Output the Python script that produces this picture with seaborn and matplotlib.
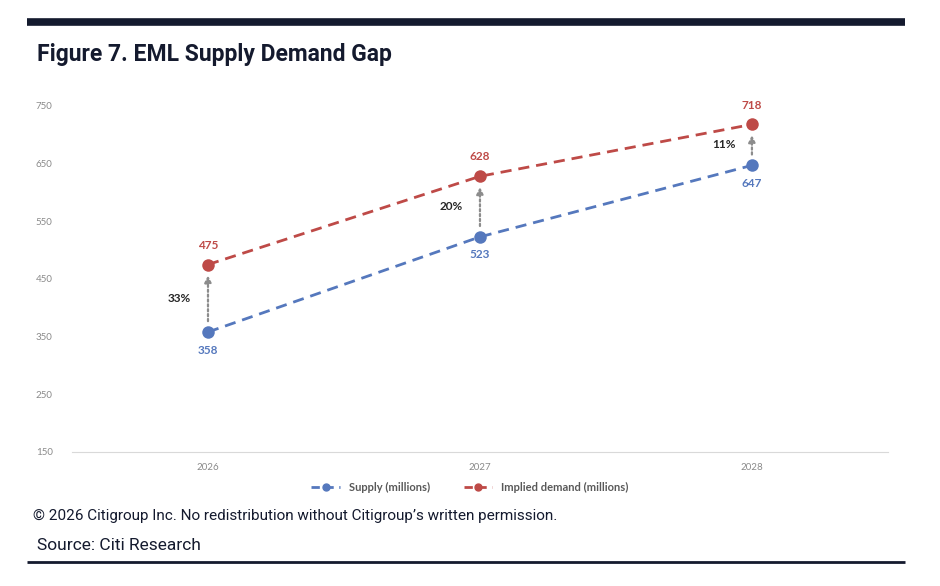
# EML supply / demand gap chart
import pandas as pd
import matplotlib.pyplot as plt
import seaborn as sns

sns.set_theme(style="white")
plt.rcParams['font.family'] = ['Lato', 'DejaVu Sans']

# data
years = ['2026', '2027', '2028']
supply = [358, 523, 647]
demand = [475, 628, 718]
gap_labels = ['33%', '20%', '11%']
y_ticks = [150, 250, 350, 450, 550, 650, 750]

blue = '#5578BD'
red = '#BE4A47'
navy = '#141A2E'

df = pd.DataFrame({'Year': years * 2,
                   'Value': supply + demand,
                   'Series': ['Supply (millions)'] * 3 + ['Implied demand (millions)'] * 3})

fig = plt.figure(figsize=(9.4, 5.86), dpi=100)
ax = fig.add_axes([0.0766, 0.2287, 0.868, 0.5905])

sns.lineplot(data=df, x='Year', y='Value', hue='Series', sort=False,
             palette={'Supply (millions)': blue, 'Implied demand (millions)': red},
             linestyle='--', linewidth=2, marker='o', markersize=9,
             markeredgewidth=0, ax=ax, legend=False)
for l in ax.lines:
    l.set_dashes([4, 2.5])

ax.set_xlim(-0.5, 2.5)
ax.set_ylim(150, 750)
ax.set_yticks(y_ticks)
ax.set_yticklabels([str(t) for t in y_ticks])
ax.tick_params(axis='both', labelsize=7, colors='#8a8a8a', length=0, pad=14)
ax.tick_params(axis='x', pad=8)
ax.set_xlabel('')
ax.set_ylabel('')
for s in ['top', 'right', 'left']:
    ax.spines[s].set_visible(False)
ax.spines['bottom'].set_color('#d9d9d9')
ax.spines['bottom'].set_linewidth(0.8)

# value labels and gap arrows
for i in range(len(years)):
    ax.annotate(str(demand[i]), (i, demand[i]), xytext=(0, 10), textcoords='offset points',
                ha='center', va='bottom', fontsize=8.5, fontweight='bold', color=red)
    ax.annotate(str(supply[i]), (i, supply[i]), xytext=(0, -9), textcoords='offset points',
                ha='center', va='top', fontsize=8.5, fontweight='bold', color=blue)
    ax.annotate('', xy=(i, demand[i] - 14), xytext=(i, supply[i] + 14),
                arrowprops=dict(arrowstyle='-|>', color='#8c8c8c', lw=1.6,
                                linestyle=(0, (1, 1.2)), mutation_scale=10))
    ax.annotate(gap_labels[i], (i, (supply[i] + demand[i]) / 2), xytext=(-12, 0),
                textcoords='offset points', ha='right', va='center',
                fontsize=8.5, fontweight='bold', color='#262626')

# legend below the plot
h1 = plt.Line2D([], [], color=blue, linestyle='--', dashes=[3, 2], marker='o', markersize=5, lw=2)
h2 = plt.Line2D([], [], color=red, linestyle='--', dashes=[3, 2], marker='o', markersize=5, lw=2)
leg = fig.legend([h1, h2], ['Supply (millions)', 'Implied demand (millions)'],
                 loc='center', bbox_to_anchor=(0.5, 1 - 487 / 586), ncol=2, frameon=False,
                 fontsize=8, handlelength=2.6, columnspacing=3)
for t in leg.get_texts():
    t.set_color('#595959')
    t.set_fontweight('bold')

# header / footer
fig.add_artist(plt.Line2D([27 / 940, 905 / 940], [1 - 22 / 586, 1 - 22 / 586],
                          color=navy, lw=5.5, solid_capstyle='butt', transform=fig.transFigure))
fig.text(37 / 940, 1 - 54 / 586, 'Figure 7. EML Supply Demand Gap', fontsize=16.5,
         fontweight='bold', color=navy, va='center', family=['Roboto', 'DejaVu Sans'])
fig.text(33 / 940, 1 - 516 / 586,
         '\u00a9 2026 Citigroup Inc. No redistribution without Citigroup\u2019s written permission.',
         fontsize=11, color=navy, va='center', family=['Roboto', 'DejaVu Sans'])
fig.text(37 / 940, 1 - 545 / 586, 'Source: Citi Research', fontsize=12.5, color=navy,
         va='center', family=['Roboto', 'DejaVu Sans'])
fig.add_artist(plt.Line2D([27 / 940, 905 / 940], [1 - 562 / 586, 1 - 562 / 586],
                          color=navy, lw=2, solid_capstyle='butt', transform=fig.transFigure))

fig.savefig('out.png', dpi=100)
